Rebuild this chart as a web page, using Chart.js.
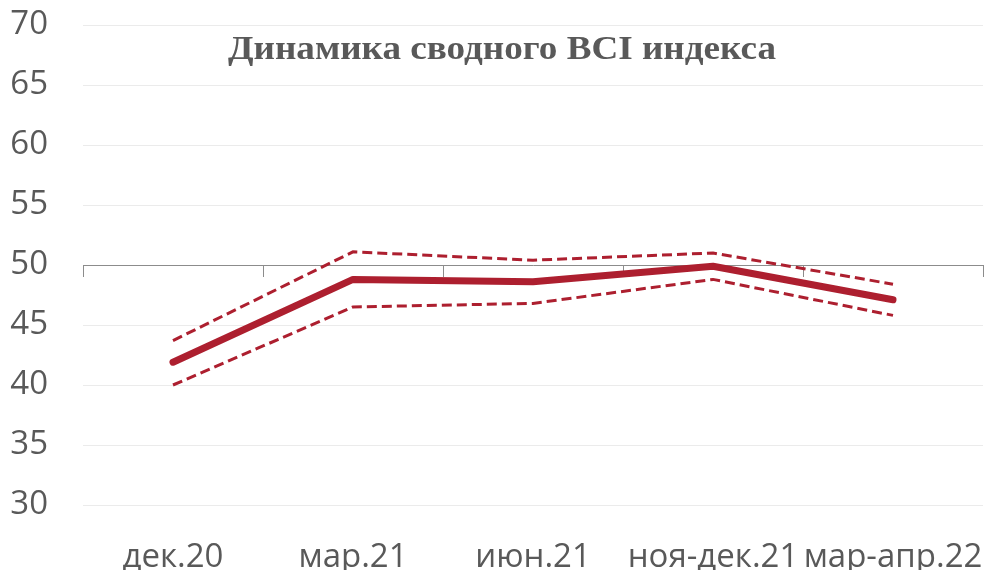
<!DOCTYPE html>
<html lang="ru">
<head>
    <meta charset="UTF-8">
    <title>Динамика сводного BCI индекса</title>
    <script src="https://cdn.jsdelivr.net/npm/chart.js@4.4.1/dist/chart.umd.min.js"></script>
    <style>
        html, body { margin: 0; padding: 0; background: #fff; }
        #wrap { width: 986px; height: 570px; position: relative; }
    </style>
</head>
<body>
<div id="wrap">
    <canvas id="lineChart"></canvas>
</div>
<script>
    // данные
    const labels = ['дек.20', 'мар.21', 'июн.21', 'ноя-дек.21', 'мар-апр.22'];
    const bciIndex = [41.9, 48.8, 48.6, 49.9, 47.1];
    const upperBound = [43.7, 51.1, 50.4, 51.0, 48.4];
    const lowerBound = [40.0, 46.5, 46.8, 48.8, 45.8];
    const yTicks = [30, 35, 40, 45, 50, 55, 60, 65, 70];
    const chartTitle = 'Динамика сводного BCI индекса';

    const red = '#AD1F2F';
    const grey = '#595959';

    // убираем автоматические отступы под выступающие подписи
    function noPad(s) {
        s.paddingTop = 0;
        s.paddingBottom = 0;
        s.paddingLeft = 0;
        s.paddingRight = 0;
    }

    // заголовок рисуем внутри области графика
    const titleInside = {
        id: 'titleInside',
        afterDraw(chart) {
            const ctx = chart.ctx;
            const area = chart.chartArea;
            ctx.save();
            ctx.font = 'bold 34px "Liberation Serif"';
            ctx.fillStyle = grey;
            ctx.textAlign = 'center';
            ctx.textBaseline = 'middle';
            // текст в оригинале шире, растягиваем по горизонтали
            const w = ctx.measureText(chartTitle).width;
            const cx = area.left + 419;
            ctx.translate(cx, area.top + 25);
            ctx.scale(548 / w, 1);
            ctx.fillText(chartTitle, 0, 0);
            ctx.restore();
        }
    };

    let ctxL = document.getElementById('lineChart').getContext('2d');
    let myLineChart = new Chart(ctxL, {
        type: 'line',
        data: {
            labels: labels,
            datasets: [{
                label: 'BCI',
                data: bciIndex,
                borderColor: red,
                borderWidth: 7,
                borderCapStyle: 'round',
                borderJoinStyle: 'round',
                order: 0
            }, {
                label: 'верхняя граница',
                data: upperBound,
                borderColor: red,
                borderWidth: 3,
                borderDash: [10, 5],
                order: 1
            }, {
                label: 'нижняя граница',
                data: lowerBound,
                borderColor: red,
                borderWidth: 3,
                borderDash: [10, 5],
                order: 1
            }]
        },
        options: {
            responsive: true,
            maintainAspectRatio: false,
            animation: false,
            layout: {padding: {top: 25, right: 3, left: 0, bottom: 0}},
            elements: {
                point: {radius: 0, hoverRadius: 0},
                line: {tension: 0, fill: false}
            },
            scales: {
                x: {
                    type: 'category',
                    offset: true,
                    grid: {display: false, drawTicks: false},
                    border: {display: false},
                    ticks: {
                        color: grey,
                        font: {family: '"Open Sans"', size: 33},
                        padding: 33,
                        maxRotation: 0,
                        autoSkip: false
                    },
                    afterFit: s => { s.height = 65; noPad(s); }
                },
                xAxis50: {
                    type: 'category',
                    labels: labels,
                    position: {y: 50},
                    offset: true,
                    grid: {
                        offset: true,
                        drawOnChartArea: false,
                        drawTicks: true,
                        tickLength: 11,
                        color: '#8c8c8c',
                        lineWidth: 1
                    },
                    border: {display: true, color: '#8c8c8c', width: 1},
                    ticks: {display: false},
                    afterFit: s => { noPad(s); }
                },
                y: {
                    min: 30,
                    max: 70,
                    afterBuildTicks: s => { s.ticks = yTicks.map(v => ({value: v})); },
                    grid: {color: '#ebebeb', lineWidth: 1, drawTicks: false},
                    border: {display: false},
                    ticks: {
                        color: grey,
                        font: {family: '"Open Sans"', size: 33},
                        padding: 35
                    },
                    afterFit: s => { s.width = 83; noPad(s); }
                }
            },
            plugins: {
                legend: {display: false},
                tooltip: {enabled: false},
                title: {display: false}
            }
        },
        plugins: [titleInside]
    });
</script>
</body>
</html>
